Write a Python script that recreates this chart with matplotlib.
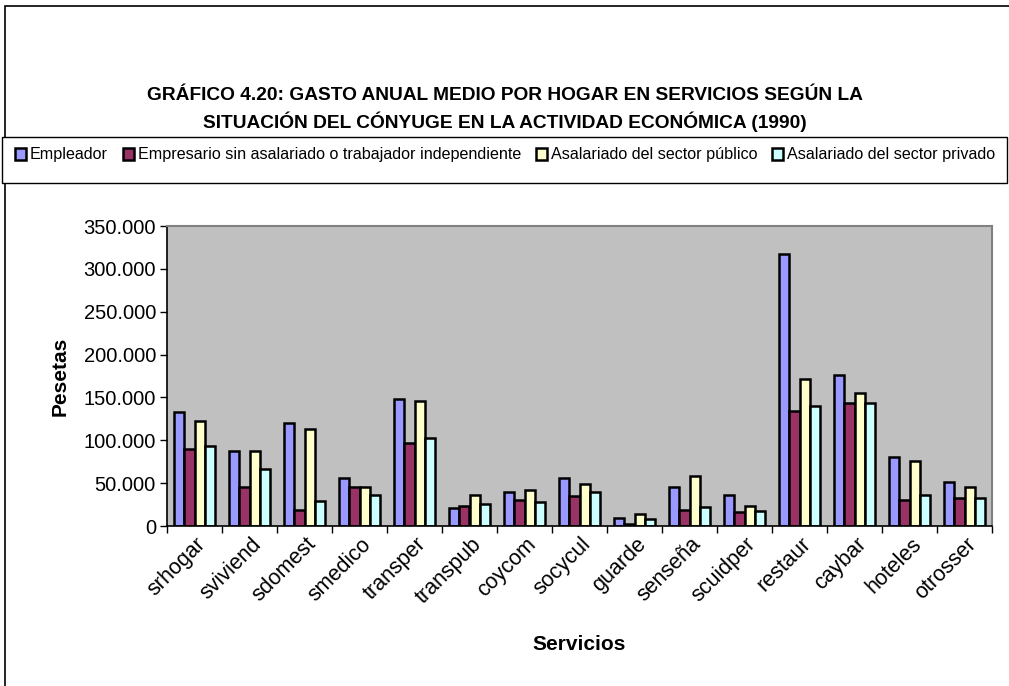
import numpy as np
import matplotlib.pyplot as plt
from matplotlib.patches import Rectangle
from matplotlib.ticker import FuncFormatter, FixedLocator

plt.rcParams['font.family'] = ['Liberation Sans', 'DejaVu Sans']

servicios = ['srhogar', 'sviviend', 'sdomest', 'smedico', 'transper', 'transpub',
             'coycom', 'socycul', 'guarde', 'senseña', 'scuidper', 'restaur',
             'caybar', 'hoteles', 'otrosser']

series = ['Empleador',
          'Empresario sin asalariado o trabajador independiente',
          'Asalariado del sector público',
          'Asalariado del sector privado']

empleador = [133000, 87000, 120000, 56000, 148000, 20500, 40000, 56000, 9300,
             45700, 36400, 317000, 176000, 80600, 50800]
empresario = [90000, 46000, 19000, 46000, 97000, 23000, 30000, 35000, 2000,
              19000, 16600, 134000, 144000, 30600, 33000]
publico = [122000, 88000, 113000, 46000, 146000, 35700, 42000, 48500, 14300,
           57800, 22900, 172000, 155000, 76000, 45000]
privado = [93000, 66000, 29000, 36000, 103000, 25600, 28000, 39500, 8000,
           22400, 17000, 139500, 144000, 36000, 32600]

colores = ['#9999FF', '#993366', '#FFFFCC', '#CCFFFF']

fig = plt.figure(figsize=(10.09, 6.86), dpi=100)
W, H = 1009, 686

# marco exterior del gráfico
fig.patches.append(Rectangle((5 / W, -0.01), 1.02, (686 - 6) / H + 0.01,
                             transform=fig.transFigure, fill=False,
                             edgecolor='black', linewidth=1.2))
# recuadro de la leyenda
fig.patches.append(Rectangle((2 / W, (H - 183) / H), 1005 / W, 46 / H,
                             transform=fig.transFigure, fill=True,
                             facecolor='white', edgecolor='black',
                             linewidth=1.0, zorder=2))

ax = fig.add_axes([167 / W, (H - 526) / H, 825 / W, 300 / H])
ax.set_facecolor('#C0C0C0')

x = np.arange(len(servicios))
ancho = 0.185
valores = [empleador, empresario, publico, privado]
for i, (vals, col) in enumerate(zip(valores, colores)):
    ax.bar(x + (i - 1.5) * ancho, vals, width=ancho, color=col,
           edgecolor='black', linewidth=1.8, label=series[i])

ax.set_xlim(-0.5, len(servicios) - 0.5)
ax.set_ylim(0, 350000)
ax.set_yticks(np.arange(0, 350001, 50000))
ax.yaxis.set_major_formatter(FuncFormatter(
    lambda v, p: '0' if v == 0 else f'{int(v):,}'.replace(',', '.')))
ax.tick_params(axis='y', labelsize=14.5, length=5, width=1, direction='out', pad=3)

ax.xaxis.set_major_locator(FixedLocator(np.arange(-0.5, len(servicios), 1)))
ax.set_xticklabels([])
ax.tick_params(axis='x', length=5, width=1, direction='out')
for xi, nombre in zip(x, servicios):
    ax.text(xi + 0.02, -9000, nombre, rotation=45, ha='right', va='top',
            rotation_mode='anchor', fontsize=15.5)

for lado in ['top', 'right']:
    ax.spines[lado].set_color('#808080')
    ax.spines[lado].set_linewidth(1.5)
ax.spines['left'].set_linewidth(1.2)
ax.spines['bottom'].set_linewidth(1.2)

ax.set_ylabel('Pesetas', fontsize=15, fontweight='bold', labelpad=10)
fig.text(0.5 * (167 + 992) / W, (H - 645) / H, 'Servicios', ha='center',
         va='center', fontsize=15, fontweight='bold')

fig.text(0.5, (H - 96) / H,
         'GRÁFICO 4.20: GASTO ANUAL MEDIO POR HOGAR EN SERVICIOS SEGÚN LA',
         ha='center', va='center', fontsize=13.8, fontweight='bold')
fig.text(0.5, (H - 122) / H,
         'SITUACIÓN DEL CÓNYUGE EN LA ACTIVIDAD ECONÓMICA (1990)',
         ha='center', va='center', fontsize=13.8, fontweight='bold')

leg = fig.legend(loc='center', bbox_to_anchor=(505 / W, (H - 155) / H),
                 ncol=4, fontsize=11.6, frameon=False,
                 handlelength=0.7, handleheight=0.7, handletextpad=0.25,
                 columnspacing=0.9, borderpad=0.2)
leg.set_zorder(3)

fig.savefig('out.png', dpi=100)
